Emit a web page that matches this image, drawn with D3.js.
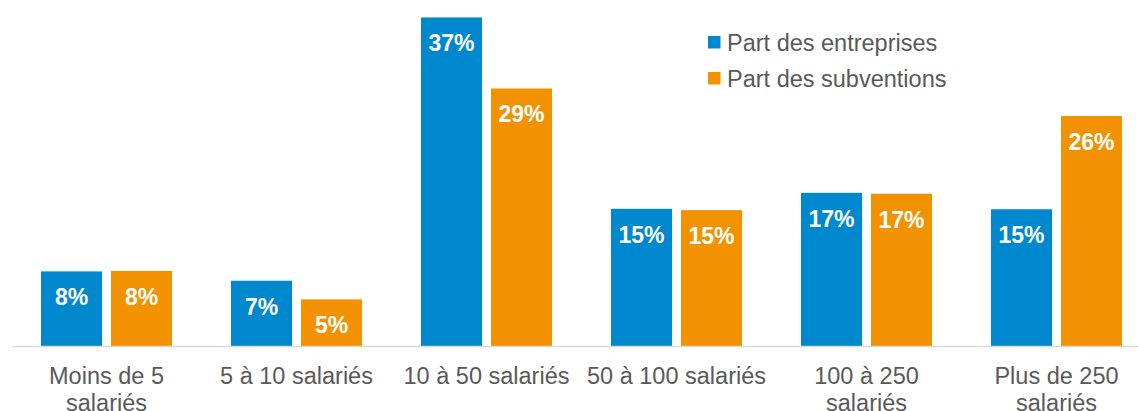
<!DOCTYPE html>
<html>
<head>
<meta charset="utf-8">
<script src="https://cdn.jsdelivr.net/npm/d3@7"></script>
<style>
  body { margin: 0; background: #fff; }
  svg { display: block; font-family: "Liberation Sans", Arial, sans-serif; }
</style>
</head>
<body>
<div id="chart"></div>
<script>
// categories (each label split in its display lines)
const categories = ["Moins de 5 salariés", "5 à 10 salariés", "10 à 50 salariés",
  "50 à 100 salariés", "100 à 250 salariés", "Plus de 250 salariés"];
const categoryLines = [
  ["Moins de 5", "salariés"],
  ["5 à 10 salariés"],
  ["10 à 50 salariés"],
  ["50 à 100 salariés"],
  ["100 à 250", "salariés"],
  ["Plus de 250", "salariés"]
];

const seriesNames = ["Part des entreprises", "Part des subventions"];
const seriesColors = ["#0088ce", "#f39200"];

// values in %
const entreprises = [8.4, 7.35, 37.0, 15.45, 17.25, 15.4];
const subventions = [8.45, 5.25, 29.0, 15.3, 17.15, 25.9];

const width = 1138;
const height = 411;
const baseline = 346;

const svg = d3.select("#chart")
  .append("svg")
  .attr("width", width)
  .attr("height", height);

const x = d3.scaleBand()
  .domain(categories)
  .range([11.5, 1151.5])
  .paddingInner(0)
  .paddingOuter(0);

const x1 = d3.scaleBand()
  .domain(seriesNames)
  .range([29.5, 190 - 29.5])
  .paddingInner(9 / 131 * 2 / (1 + 9 / 131));

const y = d3.scaleLinear()
  .domain([0, 40])
  .range([baseline, baseline - 40 * 8.88]);

const rows = categories.map((c, i) => ({
  cat: c,
  vals: [
    { name: seriesNames[0], value: entreprises[i] },
    { name: seriesNames[1], value: subventions[i] }
  ]
}));

const groups = svg.selectAll("g.group")
  .data(rows)
  .join("g")
  .attr("class", "group")
  .attr("transform", d => `translate(${x(d.cat)},0)`);

groups.selectAll("rect")
  .data(d => d.vals)
  .join("rect")
  .attr("x", d => x1(d.name))
  .attr("y", d => y(d.value))
  .attr("width", x1.bandwidth())
  .attr("height", d => baseline - y(d.value))
  .attr("fill", d => seriesColors[seriesNames.indexOf(d.name)]);

groups.selectAll("text.val")
  .data(d => d.vals)
  .join("text")
  .attr("class", "val")
  .attr("x", d => x1(d.name) + x1.bandwidth() / 2)
  .attr("y", d => y(d.value) + 34)
  .attr("text-anchor", "middle")
  .attr("fill", "#fff")
  .attr("font-weight", "bold")
  .attr("font-size", "23px")
  .text(d => Math.round(d.value) + "%");

// axis
const axis = svg.append("g")
  .attr("transform", `translate(0,${baseline})`)
  .call(d3.axisBottom(x).tickSize(0).tickFormat(""));
axis.select(".domain").attr("stroke", "#d9d9d9").attr("stroke-width", 1.5);

axis.selectAll(".tick").each(function (d, i) {
  const t = d3.select(this).append("text")
    .attr("fill", "#595959")
    .attr("font-size", "23.5px")
    .attr("text-anchor", "middle");
  categoryLines[i].forEach((line, j) => {
    t.append("tspan")
      .attr("x", 0)
      .attr("y", 38 + j * 27)
      .text(line);
  });
});

// legend
const legend = svg.append("g").attr("transform", "translate(708,36)");
seriesNames.forEach((name, i) => {
  const row = legend.append("g").attr("transform", `translate(0,${i * 36})`);
  row.append("rect")
    .attr("width", 12.5)
    .attr("height", 12.5)
    .attr("fill", seriesColors[i]);
  row.append("text")
    .attr("x", 19)
    .attr("y", 15)
    .attr("fill", "#595959")
    .attr("font-size", "23.5px")
    .text(name);
});
</script>
</body>
</html>
